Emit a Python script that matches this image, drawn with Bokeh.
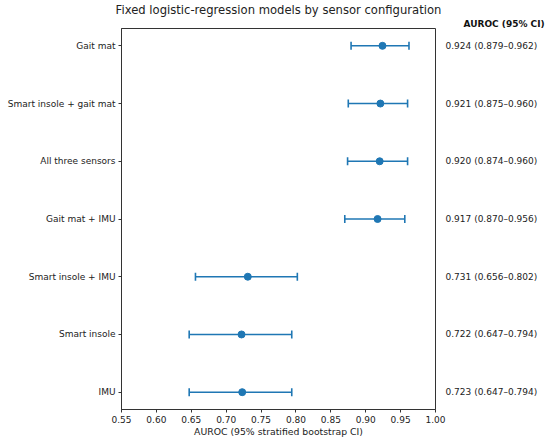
from bokeh.plotting import figure
from bokeh.models import (Range1d, FixedTicker, PrintfTickFormatter, Whisker, TeeHead,
                          ColumnDataSource, LinearAxis, Title)
from bokeh.embed import file_html
from bokeh.resources import INLINE

configs = ["Gait mat", "Smart insole + gait mat", "All three sensors", "Gait mat + IMU",
           "Smart insole + IMU", "Smart insole", "IMU"]
auroc = [0.924, 0.921, 0.920, 0.917, 0.731, 0.722, 0.723]
ci_low = [0.879, 0.875, 0.874, 0.870, 0.656, 0.647, 0.647]
ci_high = [0.962, 0.960, 0.960, 0.956, 0.802, 0.794, 0.794]
x_ticks = [0.55, 0.60, 0.65, 0.70, 0.75, 0.80, 0.85, 0.90, 0.95, 1.00]

n = len(configs)
ypos = [n - 1 - i for i in range(n)]
labels = [f"{a:.3f} ({l:.3f}\u2013{h:.3f})" for a, l, h in zip(auroc, ci_low, ci_high)]

src = ColumnDataSource(dict(y=ypos, auc=auroc, lo=ci_low, hi=ci_high))

color = "#1f77b4"
FONT = "DejaVu Sans"
TXT = "#222222"

p = figure(width=550, height=441, frame_width=314, frame_height=381,
           x_range=Range1d(0.55, 1.00), y_range=Range1d(-0.3, n - 1 + 0.3),
           output_backend="svg", toolbar_location=None,
           min_border_left=121, min_border_right=115, min_border_top=27, min_border_bottom=33)

p.xgrid.visible = False
p.ygrid.visible = False
p.outline_line_color = "#333333"
p.outline_line_width = 1

w = Whisker(source=src, base="y", lower="lo", upper="hi", dimension="width",
            line_color=color, line_width=1.6,
            lower_head=TeeHead(size=8, line_color=color, line_width=1.6),
            upper_head=TeeHead(size=8, line_color=color, line_width=1.6))
p.add_layout(w)
p.scatter("auc", "y", source=src, size=7, color=color)

p.xaxis.ticker = FixedTicker(ticks=x_ticks)
p.xaxis.formatter = PrintfTickFormatter(format="%.2f")
p.yaxis.ticker = FixedTicker(ticks=ypos)
p.yaxis.major_label_overrides = {y: c for y, c in zip(ypos, configs)}
for ax in (p.xaxis, p.yaxis):
    ax.axis_line_color = "#333333"
    ax.major_tick_line_color = "#333333"
    ax.major_tick_out = 3
    ax.major_tick_in = 0
    ax.minor_tick_line_color = None
    ax.major_label_text_font = FONT
    ax.major_label_text_font_size = "9px"
    ax.major_label_text_color = TXT
    ax.major_label_standoff = 3
p.xaxis.axis_label = "AUROC (95% stratified bootstrap CI)"
p.xaxis.axis_label_text_font = FONT
p.xaxis.axis_label_text_font_size = "9.3px"
p.xaxis.axis_label_text_font_style = "normal"
p.xaxis.axis_label_text_color = TXT
p.xaxis.axis_label_standoff = 0

right = LinearAxis(ticker=FixedTicker(ticks=ypos),
                   major_label_overrides={y: t for y, t in zip(ypos, labels)})
right.axis_line_color = None
right.major_tick_line_color = None
right.major_tick_out = 0
right.major_tick_in = 0
right.minor_tick_line_color = None
right.minor_tick_out = 0
right.major_label_standoff = 10
right.major_label_text_font = FONT
right.major_label_text_font_size = "9px"
right.major_label_text_color = TXT
p.add_layout(right, "right")

header = Title(text="AUROC (95% CI)", align="left", offset=342, text_font=FONT,
               text_font_size="9px", text_font_style="bold", text_color="#111111",
               standoff=0, text_line_height=0.6)
p.add_layout(header, "above")
main = Title(text="Fixed logistic-regression models by sensor configuration", align="center",
             text_font=FONT, text_font_size="11.6px", text_font_style="normal", text_color=TXT,
             standoff=0, text_line_height=1.0)
p.add_layout(main, "above")

open("out.html", "w").write(file_html(p, INLINE))
